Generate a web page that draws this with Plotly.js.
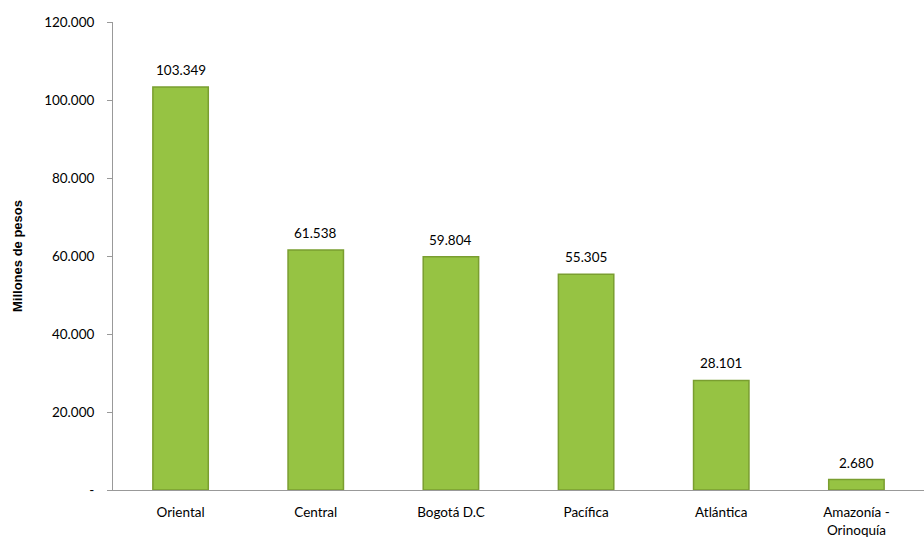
<!DOCTYPE html>
<html><head><meta charset="utf-8">
<script src="https://cdn.plot.ly/plotly-3.0.1.min.js"></script>
<style>body{margin:0;background:#fff}#c{width:924px;height:540px}</style>
</head><body><div id="c"></div>
<script>
const categories = ["Oriental","Central","Bogotá D.C","Pacífica","Atlántica","Amazonía -<br>Orinoquía"];
const values = [103349,61538,59804,55305,28101,2680];
const labels = ["103.349","61.538","59.804","55.305","28.101","2.680"];
const tickVals = [0,20000,40000,60000,80000,100000,120000];
const tickText = ["-","20.000","40.000","60.000","80.000","100.000","120.000"];
const font = "Lato, 'Liberation Sans', Arial, sans-serif";
const annotations = categories.map((c,i)=>({x:c,y:values[i],text:labels[i],showarrow:false,
  yanchor:'bottom',yshift:7,font:{family:font,size:13.5,color:'#000'}}));
Plotly.newPlot('c',[{
  type:'bar', x:categories, y:values,
  marker:{color:'#96c343',line:{color:'#7a9e30',width:1.5}},
  width:0.41, hoverinfo:'none'
}],{
  width:924,height:540,margin:{l:113,r:0,t:22,b:50},
  paper_bgcolor:'#fff',plot_bgcolor:'#fff',showlegend:false,annotations:annotations,
  xaxis:{showline:true,linecolor:'#999',linewidth:1,ticks:'',ticklabelstandoff:10,
    tickfont:{family:font,size:13.5,color:'#000'},fixedrange:true},
  yaxis:{range:[0,120000],tickvals:tickVals,ticktext:tickText,showgrid:false,zeroline:false,
    showline:true,linecolor:'#999',linewidth:1,ticks:'outside',ticklen:5,tickcolor:'#999',
    ticklabelstandoff:10,
    tickfont:{family:font,size:13.5,color:'#000'},
    title:{text:'<b>Millones de pesos</b>',font:{family:"'Liberation Sans', Arial, sans-serif",size:13,color:'#000'},standoff:18}}
},{staticPlot:true});
</script></body></html>
